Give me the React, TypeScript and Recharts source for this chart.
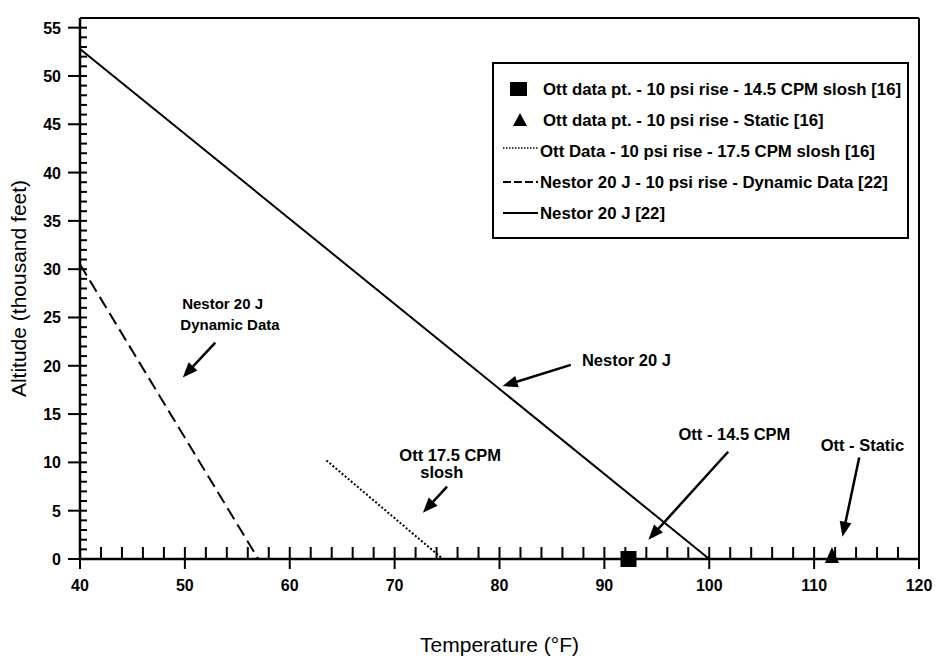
import {
    ComposedChart,
    Line,
    ReferenceDot,
    ReferenceLine,
    Scatter,
    XAxis,
    YAxis,
} from "recharts";

const FONT = "'Liberation Sans', Arial, Helvetica, sans-serif";

// axis ticks
const tempTicks = Array.from({ length: 41 }, (_, i) => 40 + i * 2);
const altTicks = Array.from({ length: 56 }, (_, i) => i);

// series
const nestor20J = [
    { temp: 40, alt: 52.8 },
    { temp: 100, alt: 0 },
];
const nestorDynamic = [
    { temp: 40, alt: 30.5 },
    { temp: 57, alt: 0 },
];
const ott175 = [
    { temp: 63.5, alt: 10.2 },
    { temp: 74.6, alt: 0 },
];
const ott145 = [{ temp: 92.3, alt: 0 }];
const ottStatic = [{ temp: 111.7, alt: 0 }];

// callouts
const notes = [
    { text: "Nestor 20 J", x: 53.6, y: 26.4, size: 15 },
    { text: "Dynamic Data", x: 54.3, y: 24.3, size: 15 },
    { text: "Nestor 20 J", x: 92.1, y: 20.6, size: 16.5 },
    { text: "Ott 17.5 CPM", x: 75.3, y: 10.8, size: 16.5 },
    { text: "slosh", x: 74.5, y: 9.0, size: 16.5 },
    { text: "Ott - 14.5 CPM", x: 102.4, y: 12.9, size: 16.5 },
    { text: "Ott - Static", x: 114.6, y: 11.8, size: 16.5 },
];
const arrows = [
    { from: [52.9, 22.4], to: [49.8, 18.8] },
    { from: [86.8, 20.1], to: [80.3, 17.9] },
    { from: [75.0, 7.5], to: [72.7, 4.8] },
    { from: [101.8, 11.1], to: [94.2, 2.0] },
    { from: [114.3, 10.5], to: [112.7, 2.3] },
];

const legendItems = [
    { kind: "square", label: "Ott data pt. - 10 psi rise - 14.5 CPM slosh [16]" },
    { kind: "triangle", label: "Ott data pt. - 10 psi rise - Static [16]" },
    { kind: "dotted", label: "Ott Data - 10 psi rise - 17.5 CPM slosh [16]" },
    { kind: "dashed", label: "Nestor 20 J - 10 psi rise - Dynamic Data [22]" },
    { kind: "solid", label: "Nestor 20 J [22]" },
];

const XTick = (props: any) => {
    const { x, y, payload } = props;
    const major = payload.value % 10 === 0;
    return (
        <g>
            <line x1={x} x2={x} y1={y - 12} y2={major ? y + 10 : y} stroke="#000" strokeWidth={2} />
            {major && (
                <text x={x} y={y + 32} textAnchor="middle" fontSize={16} fontWeight="bold" fontFamily={FONT} fill="#000">
                    {payload.value}
                </text>
            )}
        </g>
    );
};

const YTick = (props: any) => {
    const { x, y, payload } = props;
    const major = payload.value % 5 === 0;
    return (
        <g>
            <line x1={major ? x - 12 : x} x2={x + 7} y1={y} y2={y} stroke="#000" strokeWidth={2} />
            {major && (
                <text x={x - 19} y={y + 6} textAnchor="end" fontSize={16} fontWeight="bold" fontFamily={FONT} fill="#000">
                    {payload.value}
                </text>
            )}
        </g>
    );
};

const Arrow = (p: any) => {
    const { x1, y1, x2, y2 } = p;
    const a = Math.atan2(y2 - y1, x2 - x1);
    const len = 15;
    const w = 6;
    const bx = x2 - len * Math.cos(a);
    const by = y2 - len * Math.sin(a);
    const pts = `${x2},${y2} ${bx - w * Math.sin(a)},${by + w * Math.cos(a)} ${bx + w * Math.sin(a)},${by - w * Math.cos(a)}`;
    return (
        <g>
            <line x1={x1} y1={y1} x2={bx + 2 * Math.cos(a)} y2={by + 2 * Math.sin(a)} stroke="#000" strokeWidth={2.5} />
            <polygon points={pts} fill="#000" />
        </g>
    );
};

const SquareDot = (p: any) => <rect x={p.cx - 8} y={p.cy - 8} width={16} height={16} fill="#000" />;
const TriangleDot = (p: any) => (
    <polygon points={`${p.cx},${p.cy - 12} ${p.cx - 7},${p.cy + 4} ${p.cx + 7},${p.cy + 4}`} fill="#000" />
);

const LegendBox = () => (
    <svg
        width={417}
        height={177}
        style={{ position: "absolute", left: 492, top: 62 }}
    >
        <rect x={1} y={1} width={415} height={175} fill="#fff" stroke="#000" strokeWidth={2} />
        {legendItems.map((item, i) => {
            const cy = 27 + i * 31;
            let sym = null;
            if (item.kind === "square") sym = <rect x={18} y={cy - 7} width={17} height={14} fill="#000" />;
            if (item.kind === "triangle")
                sym = <polygon points={`${28},${cy - 7} ${21},${cy + 6} ${35},${cy + 6}`} fill="#000" />;
            if (item.kind === "dotted")
                sym = <line x1={11} x2={46} y1={cy - 3} y2={cy - 3} stroke="#000" strokeWidth={1.5} strokeDasharray="1.5 1.5" />;
            if (item.kind === "dashed")
                sym = <line x1={11} x2={46} y1={cy} y2={cy} stroke="#000" strokeWidth={2} strokeDasharray="8 3" />;
            if (item.kind === "solid")
                sym = <line x1={11} x2={46} y1={cy} y2={cy} stroke="#000" strokeWidth={2} />;
            const tx = i < 2 ? 51 : 48;
            return (
                <g key={i}>
                    {sym}
                    <text x={tx} y={cy + 6} fontSize={16.8} fontWeight="bold" fontFamily={FONT} fill="#000">
                        {item.label}
                    </text>
                </g>
            );
        })}
    </svg>
);

export default function App() {
    return (
        <div style={{ position: "fixed", left: 0, top: 0, width: 936, height: 659, background: "#fff" }}>
            <ComposedChart width={936} height={659} margin={{ top: 18, right: 17, left: 0, bottom: 0 }}>
                <XAxis
                    dataKey="temp"
                    type="number"
                    domain={[40, 120]}
                    ticks={tempTicks}
                    interval={0}
                    tick={<XTick />}
                    tickSize={0}
                    tickMargin={0}
                    tickLine={false}
                    height={100}
                    axisLine={{ stroke: "#000", strokeWidth: 2.5 }}
                    label={{
                        value: "Temperature (°F)",
                        position: "insideBottom",
                        offset: 7,
                        style: { fontSize: 21, fontFamily: FONT, fill: "#000" },
                    }}
                />
                <YAxis
                    dataKey="alt"
                    type="number"
                    domain={[0, 56]}
                    ticks={altTicks}
                    interval={0}
                    tick={<YTick />}
                    tickSize={0}
                    tickMargin={0}
                    tickLine={false}
                    width={80}
                    axisLine={{ stroke: "#000", strokeWidth: 2.5 }}
                    label={{
                        value: "Altitude (thousand feet)",
                        angle: -90,
                        position: "insideLeft",
                        offset: 19,
                        style: { fontSize: 21, fontFamily: FONT, fill: "#000", textAnchor: "middle" },
                    }}
                />
                <ReferenceLine y={56} stroke="#000" strokeWidth={2} />
                <ReferenceLine x={120} stroke="#000" strokeWidth={2} />

                <Line
                    data={nestor20J}
                    dataKey="alt"
                    type="linear"
                    stroke="#000"
                    strokeWidth={2}
                    dot={false}
                    isAnimationActive={false}
                />
                <Line
                    data={nestorDynamic}
                    dataKey="alt"
                    type="linear"
                    stroke="#000"
                    strokeWidth={2}
                    strokeDasharray="13 6"
                    dot={false}
                    isAnimationActive={false}
                />
                <Line
                    data={ott175}
                    dataKey="alt"
                    type="linear"
                    stroke="#000"
                    strokeWidth={2}
                    strokeDasharray="2 2"
                    dot={false}
                    isAnimationActive={false}
                />
                <Scatter data={ott145} dataKey="alt" shape={SquareDot} isAnimationActive={false} />
                <Scatter data={ottStatic} dataKey="alt" shape={TriangleDot} isAnimationActive={false} />

                {arrows.map((a, i) => (
                    <ReferenceLine
                        key={"ar" + i}
                        segment={[
                            { x: a.from[0], y: a.from[1] },
                            { x: a.to[0], y: a.to[1] },
                        ]}
                        ifOverflow="visible"
                        shape={Arrow}
                    />
                ))}
                {notes.map((n, i) => (
                    <ReferenceDot
                        key={"n" + i}
                        x={n.x}
                        y={n.y}
                        r={0}
                        ifOverflow="visible"
                        shape={(p: any) => (
                            <text
                                x={p.cx}
                                y={p.cy + n.size * 0.36}
                                textAnchor="middle"
                                fontSize={n.size}
                                fontWeight="bold"
                                fontFamily={FONT}
                                fill="#000"
                            >
                                {n.text}
                            </text>
                        )}
                    />
                ))}
            </ComposedChart>
            <LegendBox />
        </div>
    );
}
